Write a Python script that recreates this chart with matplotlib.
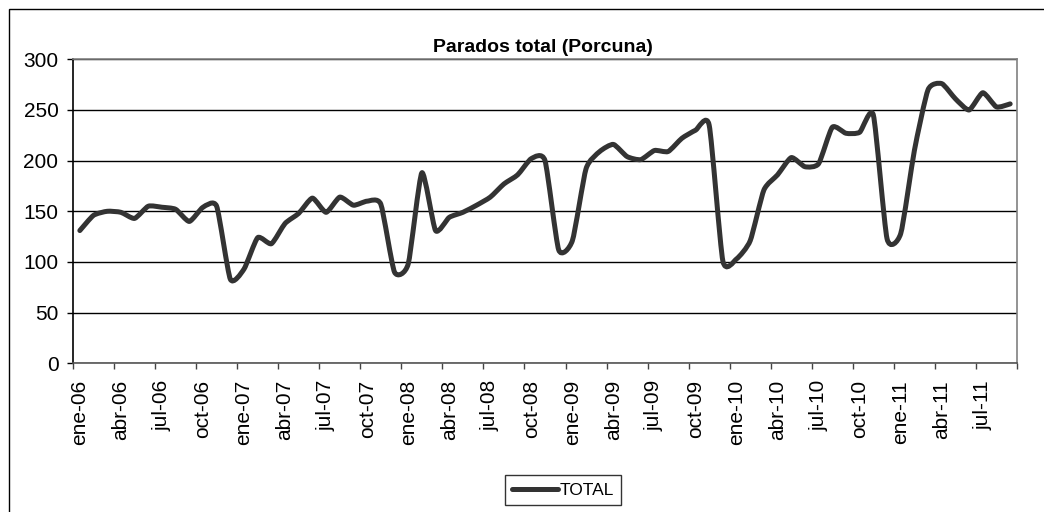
"""Parados total (Porcuna) - serie mensual ene-06 a sep-11."""

import matplotlib

matplotlib.use("Agg")

import matplotlib.pyplot as plt
from matplotlib.lines import Line2D
from matplotlib.patches import PathPatch, Rectangle
from matplotlib.path import Path

plt.rcParams["font.family"] = ["Liberation Sans", "DejaVu Sans"]

# Datos
months = ["ene", "feb", "mar", "abr", "may", "jun", "jul", "ago", "sep", "oct", "nov", "dic"]
years = ["06", "07", "08", "09", "10", "11"]
categories = [f"{m}-{y}" for y in years for m in months][:69]

total = [
    131, 146, 150, 149, 143, 155, 154, 152, 140, 154, 155, 83,
    93, 124, 118, 138, 148, 163, 149, 164, 156, 160, 157, 90,
    98, 188, 131, 144, 149, 156, 164, 177, 186, 202, 200, 112,
    121, 192, 209, 216, 204, 201, 210, 209, 222, 230, 235, 101,
    103, 121, 171, 186, 203, 194, 197, 233, 227, 228, 245, 123,
    128, 210, 270, 276, 261, 250, 267, 253, 256,
]

y_ticks = [0, 50, 100, 150, 200, 250, 300]
line_color = "#333333"


def smooth_path(xs, ys, k=0.1):
    """Bezier-Pfad aehnlich Excels geglaetteter Linie."""
    n = len(xs)
    verts = [(xs[0], ys[0])]
    codes = [Path.MOVETO]
    for i in range(n - 1):
        i0 = max(i - 1, 0)
        i3 = min(i + 2, n - 1)
        c1 = (xs[i] + (xs[i + 1] - xs[i0]) * k, ys[i] + (ys[i + 1] - ys[i0]) * k)
        c2 = (xs[i + 1] - (xs[i3] - xs[i]) * k, ys[i + 1] - (ys[i3] - ys[i]) * k)
        verts += [c1, c2, (xs[i + 1], ys[i + 1])]
        codes += [Path.CURVE4] * 3
    return Path(verts, codes)


fig = plt.figure(figsize=(10.44, 5.12), dpi=100)
# Rahmen des Diagrammbereichs (links/oben sichtbar)
fig.patches.append(
    Rectangle((9 / 1044, -0.5), 1.5, 1 - 9 / 512 + 0.5, transform=fig.transFigure,
              fill=False, edgecolor="black", linewidth=1.0)
)

ax = fig.add_axes([73 / 1044, 1 - 363.3 / 512, 944 / 1044, 304 / 512])

x = list(range(len(total)))
ax.add_patch(
    PathPatch(
        smooth_path(x, total),
        fill=False,
        edgecolor=line_color,
        linewidth=3.6,
        capstyle="round",
        joinstyle="round",
        zorder=3,
    )
)

ax.set_xlim(-0.5, len(total) - 0.5)
ax.set_ylim(0, 300)
ax.set_yticks(y_ticks)
ax.set_xticks([i - 0.5 for i in range(0, len(total) + 1, 3)])
ax.set_xticklabels([])
ax.set_xticks(x[::3], minor=True)
ax.set_xticklabels(categories[::3], minor=True, rotation=90, fontsize=15)
ax.tick_params(axis="x", which="minor", length=0, pad=12)
ax.tick_params(axis="x", which="major", length=4.5, width=1, color="#444444")
ax.tick_params(axis="y", length=4.5, width=1, pad=6, labelsize=15)

ax.set_axisbelow(True)
ax.yaxis.grid(True, color="black", linewidth=1.0)
ax.spines["top"].set_color("#808080")
ax.spines["right"].set_color("#808080")
ax.spines["left"].set_color("black")
ax.spines["bottom"].set_color("#555555")
for s in ax.spines.values():
    s.set_linewidth(1.2)

fig.text(543 / 1044, 1 - 47 / 512, "Parados total (Porcuna)", ha="center", va="center",
         fontsize=14, fontweight="bold")

handle = Line2D([], [], color=line_color, linewidth=3.6, solid_capstyle="round")
leg = fig.legend(
    [handle],
    ["TOTAL"],
    loc="center",
    bbox_to_anchor=(563 / 1044, 1 - 490 / 512),
    fontsize=12.5,
    frameon=True,
    fancybox=False,
    handlelength=2.6,
    handletextpad=0.1,
    borderpad=0.45,
    borderaxespad=0,
)
leg.get_frame().set_edgecolor("black")
leg.get_frame().set_linewidth(1.0)

fig.savefig("out.png", dpi=100)
